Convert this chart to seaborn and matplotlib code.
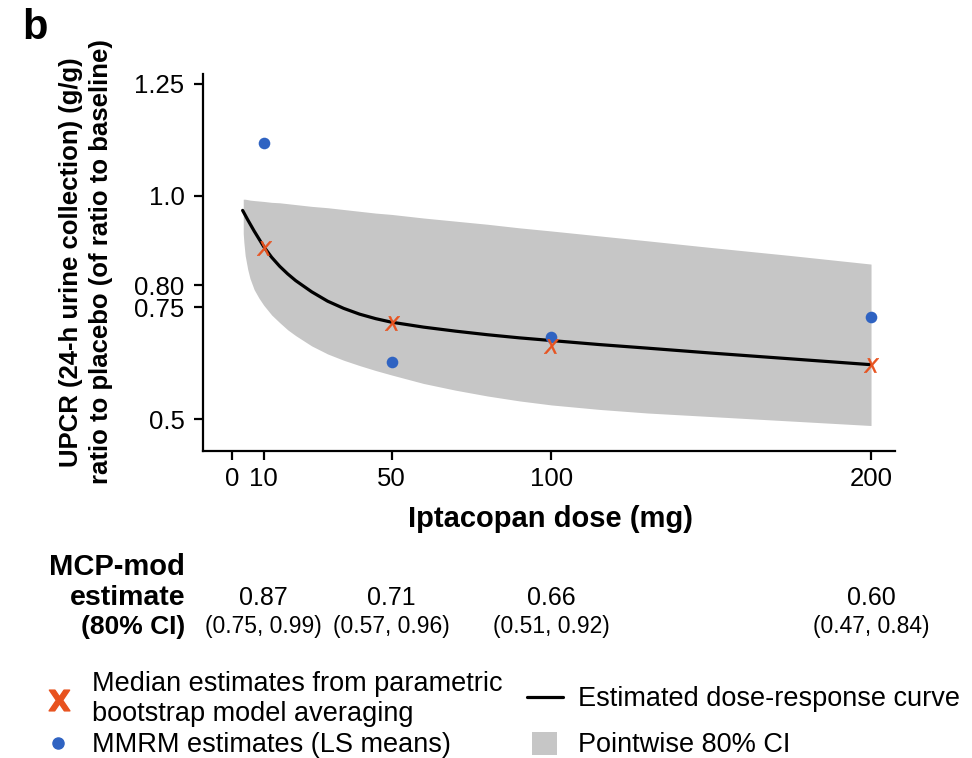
import matplotlib
matplotlib.use("Agg")
import matplotlib.pyplot as plt
import matplotlib.transforms as mtransforms
from matplotlib.lines import Line2D
from matplotlib.patches import Patch
import seaborn as sns
import pandas as pd

# ---------------- data ----------------
doses = [10, 50, 100, 200]
mmrm_means = [1.117, 0.629, 0.685, 0.729]
median_estimates = [0.882, 0.715, 0.664, 0.621]

curve_dose = [3.4, 5, 7, 10, 12.5, 15, 17.5, 20, 25, 30, 35, 40, 45, 50, 60, 70, 80, 90, 100,
              115, 130, 150, 175, 200]
curve_value = [0.967, 0.946, 0.921, 0.886, 0.862, 0.842, 0.825, 0.810, 0.785, 0.764, 0.748,
               0.735, 0.725, 0.717, 0.706, 0.697, 0.689, 0.682, 0.676, 0.667, 0.659, 0.648,
               0.635, 0.622]

band_dose = [3.6, 3.8, 4.2, 5, 5.7, 7, 8.5, 10, 12.5, 15, 17.5, 20, 25, 30, 35, 40, 45, 50,
             60, 70, 80, 90, 100, 115, 130, 150, 175, 200]
band_upper = [0.992, 0.992, 0.992, 0.991, 0.990, 0.989, 0.988, 0.987, 0.985, 0.984, 0.982,
              0.980, 0.976, 0.973, 0.969, 0.965, 0.961, 0.958, 0.950, 0.943, 0.936, 0.928,
              0.921, 0.910, 0.899, 0.884, 0.866, 0.847]
band_lower = [0.915, 0.895, 0.866, 0.835, 0.815, 0.790, 0.771, 0.755, 0.733, 0.716, 0.700,
              0.687, 0.664, 0.646, 0.632, 0.620, 0.609, 0.599, 0.580, 0.565, 0.552, 0.541,
              0.532, 0.522, 0.514, 0.506, 0.496, 0.486]

x_ticks = [0, 10, 50, 100, 200]
y_ticks = [0.5, 0.75, 0.80, 1.0, 1.25]
y_tick_labels = ["0.5", "0.75", "0.80", "1.0", "1.25"]

table_estimates = ["0.87", "0.71", "0.66", "0.60"]
table_cis = ["(0.75, 0.99)", "(0.57, 0.96)", "(0.51, 0.92)", "(0.47, 0.84)"]

# ---------------- style ----------------
sns.set_theme(style="ticks")
plt.rcParams["font.family"] = ["Liberation Sans", "DejaVu Sans"]
plt.rcParams["text.color"] = "black"
plt.rcParams["axes.labelcolor"] = "black"
plt.rcParams["xtick.color"] = "black"
plt.rcParams["ytick.color"] = "black"

BLUE = "#2F63C2"
ORANGE = "#E8521E"
GRAY = "#C6C6C6"

W, H = 972, 758
fig = plt.figure(figsize=(W / 100, H / 100), dpi=100)
ax_l, ax_r, ax_t, ax_b = 203.3, 895, 74, 451
ax = fig.add_axes([ax_l / W, 1 - ax_b / H, (ax_r - ax_l) / W, (ax_b - ax_t) / H])

pts = pd.DataFrame({"dose": doses, "mmrm": mmrm_means, "median": median_estimates})
curve = pd.DataFrame({"dose": curve_dose, "value": curve_value})

ax.fill_between(band_dose, band_lower, band_upper, color=GRAY, linewidth=0, zorder=1)
sns.lineplot(data=curve, x="dose", y="value", ax=ax, color="black", linewidth=2.3, zorder=3)
sns.scatterplot(data=pts, x="dose", y="mmrm", ax=ax, color=BLUE, s=70, linewidth=0, zorder=4)
sns.scatterplot(data=pts, x="dose", y="median", ax=ax, color=ORANGE, marker="$X$", s=110,
                linewidth=0.4, edgecolor=ORANGE, zorder=5)

ax.set_xlim(-8.9, 207.5)
ax.set_ylim(0.429, 1.272)
ax.set_xticks(x_ticks)
ax.set_xticklabels([str(t) for t in x_ticks])
ax.set_yticks(y_ticks)
ax.set_yticklabels(y_tick_labels)
sns.despine(ax=ax)
for s in ("left", "bottom"):
    ax.spines[s].set_linewidth(1.6)
    ax.spines[s].set_color("black")
ax.tick_params(axis="both", length=6.5, width=1.6, color="black", labelsize=18.5,
               labelcolor="black", direction="out")
ax.tick_params(axis="y", pad=7)
ax.tick_params(axis="x", pad=5)

ax.set_xlabel("Iptacopan dose (mg)", fontsize=21, fontweight="bold", va="center")
ax.xaxis.set_label_coords((550 - ax_l) / (ax_r - ax_l), (ax_b - 519) / (ax_b - ax_t))
ax.set_ylabel("UPCR (24-h urine collection) (g/g)\nratio to placebo (of ratio to baseline)",
              fontsize=18.5, fontweight="bold", va="center", ha="center", linespacing=1.3)
ax.yaxis.set_label_coords((86 - ax_l) / (ax_r - ax_l), (ax_b - 262) / (ax_b - ax_t))

fig.text(22 / W, 1 - 8 / H, "b", fontsize=30, fontweight="bold", va="top", ha="left")

# ---------------- table under the plot ----------------
trans = mtransforms.blended_transform_factory(ax.transData, fig.transFigure)
row_y = [1 - 567 / H, 1 - 598 / H, 1 - 627 / H]
fig.text(185 / W, row_y[0], "MCP-mod", fontsize=21, fontweight="bold", ha="right", va="center")
fig.text(185 / W, row_y[1], "estimate", fontsize=20.5, fontweight="bold", ha="right", va="center")
fig.text(185 / W, row_y[2], "(80% CI)", fontsize=19, fontweight="bold", ha="right", va="center")
for d, est, ci in zip(doses, table_estimates, table_cis):
    ax.text(d, row_y[1], est, transform=trans, fontsize=18, ha="center", va="center")
    ax.text(d, row_y[2], ci, transform=trans, fontsize=16.5, ha="center", va="center")

# ---------------- legend ----------------
FS = 19.5
px = FS * 100 / 72.0  # font size in pixels


def add_legend(handle, label, left_px, cy_px, handlelength, handletextpad, handleheight=0.7):
    fig.legend([handle], [label], loc="center left",
               bbox_to_anchor=(left_px / W, 1 - cy_px / H), frameon=False,
               fontsize=FS, borderpad=0, borderaxespad=0, handlelength=handlelength,
               handletextpad=handletextpad, handleheight=handleheight, labelspacing=0.2)


h_x = Line2D([], [], linestyle="none", marker=r"$\mathbf{X}$", color=ORANGE, markersize=15)
h_dot = Line2D([], [], linestyle="none", marker="o", color=BLUE, markersize=8)
h_line = Line2D([], [], color="black", linewidth=2.3)
h_patch = Patch(facecolor=GRAY, edgecolor="none")

add_legend(h_x, "Median estimates from parametric\nbootstrap model averaging",
           58.7 - px / 2, 699, 1.0, (91.7 - 58.7 - px / 2) / px)
add_legend(h_dot, "MMRM estimates (LS means)", 58.2 - px / 2, 745, 1.0, (91.7 - 58.2 - px / 2) / px)
add_legend(h_line, "Estimated dose-response curve", 526.7, 699, 36.6 / px, 15 / px)
add_legend(h_patch, "Pointwise 80% CI", 532, 745, 25 / px, 21 / px, handleheight=25 / px)

fig.savefig("out.png", dpi=100)
